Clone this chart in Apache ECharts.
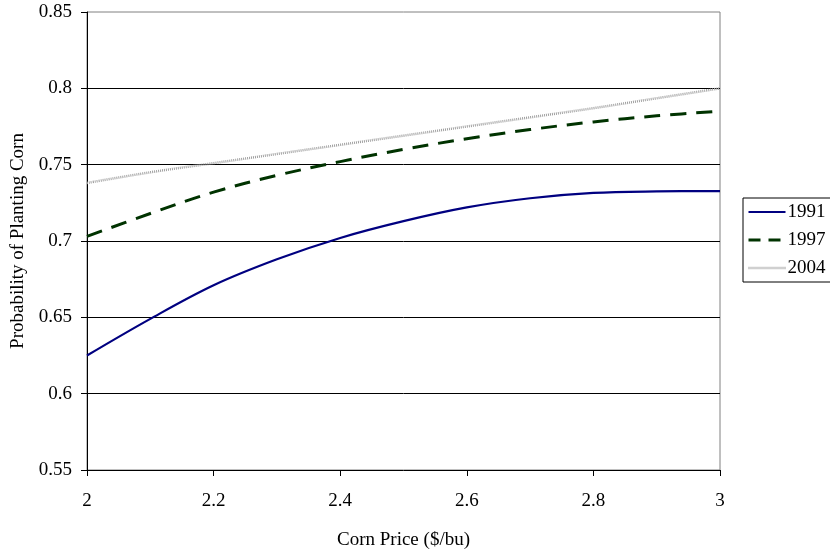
<!DOCTYPE html>
<html>
<head>
<meta charset="utf-8">
<script src="https://cdn.jsdelivr.net/npm/echarts@6/dist/echarts.min.js"></script>
<style>html,body{margin:0;padding:0;background:#fff}#c{width:830px;height:550px}</style>
</head>
<body>
<div id="c"></div>
<script>
var prices = [2.0, 2.1, 2.2, 2.3, 2.4, 2.5, 2.6, 2.7, 2.8, 2.9, 3.0];
var y1991 = [0.625, 0.649, 0.671, 0.688, 0.702, 0.713, 0.722, 0.728, 0.7315, 0.7325, 0.7327];
var y1997 = [0.703, 0.718, 0.732, 0.743, 0.752, 0.760, 0.767, 0.773, 0.778, 0.782, 0.785];
var y2004 = [0.738, 0.745, 0.751, 0.757, 0.763, 0.769, 0.775, 0.781, 0.787, 0.7935, 0.800];
var seriesNames = ['1991', '1997', '2004'];
var xTitle = 'Corn Price ($/bu)';
var yTitle = 'Probability of Planting Corn';

function pairs(ys) { return prices.map(function (p, i) { return [p, ys[i]]; }); }
var FONT = "'Liberation Serif','Times New Roman',serif";
var styles = [
  {color: '#000080', width: 2.2, type: 'solid'},
  {color: '#003300', width: 3, type: [16, 10]},
  {color: '#a0a0a0', width: 2.5, type: [1, 1]}
];
var chart = echarts.init(document.getElementById('c'), null, {renderer: 'canvas'});
chart.setOption({
  animation: false,
  backgroundColor: '#fff',
  textStyle: {fontFamily: FONT, color: '#000'},
  grid: {left: 87, right: 110, top: 12, bottom: 80, containLabel: false, outerBoundsMode: 'none',
         show: true, borderColor: '#808080', borderWidth: 1, backgroundColor: 'transparent'},
  legend: {
    orient: 'vertical', left: 743, top: 198,
    data: seriesNames.map(function (n, i) {
      return {name: n, lineStyle: {width: styles[i].width, color: styles[i].color, type: i === 1 ? [12, 8] : styles[i].type}};
    }),
    itemWidth: 37, itemHeight: 20, itemGap: 8,
    padding: [4, 12, 4, 4],
    borderColor: '#000', borderWidth: 1, borderRadius: 0,
    itemStyle: {opacity: 0},
    textStyle: {fontFamily: FONT, fontSize: 19, color: '#000', lineHeight: 20, padding: [0,0,0,-3]}
  },
  xAxis: {
    type: 'value', min: 2, max: 3, interval: 0.2,
    name: xTitle, nameLocation: 'middle', nameGap: 61,
    nameTextStyle: {fontFamily: FONT, fontSize: 19, color: '#000'},
    axisLine: {show: true, onZero: false, lineStyle: {color: '#000', width: 1}},
    axisTick: {show: true, inside: false, length: 6, lineStyle: {color: '#000'}},
    axisLabel: {fontFamily: FONT, fontSize: 19, color: '#000', margin: 22,
                formatter: function (v) { return String(Math.round(v * 10) / 10); }},
    splitLine: {show: false}
  },
  yAxis: {
    type: 'value', min: 0.55, max: 0.85, interval: 0.05,
    name: yTitle, nameLocation: 'middle', nameGap: 59, nameRotate: 90,
    nameTextStyle: {fontFamily: FONT, fontSize: 19, color: '#000'},
    axisLine: {show: true, lineStyle: {color: '#000', width: 1}},
    axisTick: {show: true, inside: false, length: 6, lineStyle: {color: '#000'}},
    axisLabel: {fontFamily: FONT, fontSize: 19, color: '#000', margin: 15,
                formatter: function (v) { return String(Math.round(v * 100) / 100); }},
    splitLine: {show: true, showMinLine: false, showMaxLine: false, lineStyle: {color: '#000', width: 1}}
  },
  series: [y1991, y1997, y2004].map(function (ys, i) {
    return {name: seriesNames[i], type: 'line', data: pairs(ys), smooth: 0.35, symbol: 'none',
            lineStyle: {color: styles[i].color, width: styles[i].width, type: styles[i].type},
            itemStyle: {color: styles[i].color}};
  })
});
</script>
</body>
</html>
